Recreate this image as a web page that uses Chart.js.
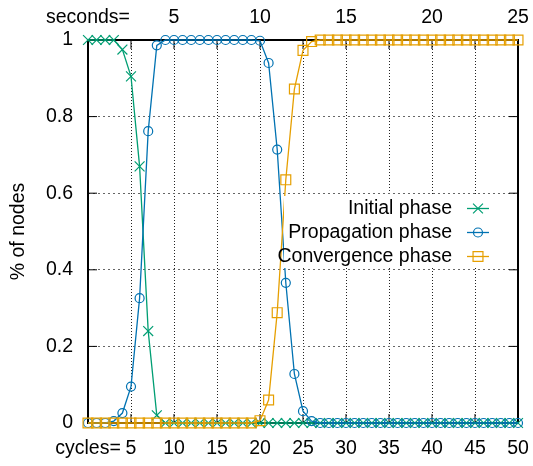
<!DOCTYPE html>
<html>
<head>
<meta charset="utf-8">
<script src="https://cdn.jsdelivr.net/npm/chart.js@4"></script>
<style>
  html, body { margin: 0; padding: 0; background: #fff; }
  canvas { display: block; }
</style>
</head>
<body>
<canvas id="phaseChart" width="533" height="466"></canvas>
<script>
// DATA
const cycles = [0, 1, 2, 3, 4, 5, 6, 7, 8, 9, 10, 11, 12, 13, 14, 15, 16, 17, 18, 19, 20,
    21, 22, 23, 24, 25, 26, 27, 28, 29, 30, 31, 32, 33, 34, 35, 36, 37, 38, 39, 40,
    41, 42, 43, 44, 45, 46, 47, 48, 49, 50];
const initialPhase = [1, 1, 1, 1, 0.975, 0.905, 0.67, 0.24, 0.02, 0, 0,
    0, 0, 0, 0, 0, 0, 0, 0, 0, 0,
    0, 0, 0, 0, 0, 0, 0, 0, 0, 0,
    0, 0, 0, 0, 0, 0, 0, 0, 0, 0,
    0, 0, 0, 0, 0, 0, 0, 0, 0, 0];
const propagationPhase = [0, 0, 0, 0.005, 0.026, 0.095, 0.326, 0.762, 0.986, 1, 1,
    1, 1, 1, 1, 1, 1, 1, 1, 1, 0.998,
    0.94, 0.714, 0.366, 0.128, 0.031, 0.005, 0, 0, 0, 0,
    0, 0, 0, 0, 0, 0, 0, 0, 0, 0,
    0, 0, 0, 0, 0, 0, 0, 0, 0, 0];
const convergencePhase = [0, 0, 0, 0, 0, 0, 0, 0, 0, 0, 0,
    0, 0, 0, 0, 0, 0, 0, 0, 0, 0.006,
    0.06, 0.288, 0.635, 0.872, 0.973, 0.996, 1, 1, 1, 1,
    1, 1, 1, 1, 1, 1, 1, 1, 1, 1,
    1, 1, 1, 1, 1, 1, 1, 1, 1, 1];

const cycleTicks = [0, 5, 10, 15, 20, 25, 30, 35, 40, 45, 50];
const cycleLabels = ['cycles=', '5', '10', '15', '20', '25', '30', '35', '40', '45', '50'];
const secondTicks = [0, 5, 10, 15, 20, 25];
const secondLabels = ['seconds=', '5', '10', '15', '20', '25'];
const percentTicks = [0, 0.2, 0.4, 0.6, 0.8, 1];
const percentLabels = ['0', '0.2', '0.4', '0.6', '0.8', '1'];

const FONT = "'Liberation Sans', Arial, sans-serif";
const FONT_SIZE = 19.5;

function toPoints(values) {
    return cycles.map((c, i) => ({ x: c, y: values[i] }));
}

// frame + inside tick marks (gnuplot style)
const framePlugin = {
    id: 'frame',
    beforeDatasetsDraw(chart) {
        const { ctx, chartArea: a, scales } = chart;
        ctx.save();
        ctx.strokeStyle = '#000';
        ctx.lineWidth = 1;
        ctx.beginPath();
        cycleTicks.forEach(v => {
            const px = scales.x.getPixelForValue(v);
            ctx.moveTo(px, a.bottom); ctx.lineTo(px, a.bottom - 9);
            ctx.moveTo(px, a.top); ctx.lineTo(px, a.top + 9);
        });
        percentTicks.forEach(v => {
            const py = scales.y.getPixelForValue(v);
            ctx.moveTo(a.left, py); ctx.lineTo(a.left + 9, py);
            ctx.moveTo(a.right, py); ctx.lineTo(a.right - 9, py);
        });
        ctx.stroke();
        ctx.lineWidth = 2;
        ctx.strokeRect(a.left, a.top, a.right - a.left, a.bottom - a.top);
        ctx.restore();
    }
};

// key at the right, text first then the sample (opaque box)
const keyPlugin = {
    id: 'key',
    afterDatasetsDraw(chart) {
        const ctx = chart.ctx;
        const a = chart.chartArea;
        ctx.save();
        ctx.fillStyle = '#fff';
        ctx.fillRect(284, 196, a.right - 285, 72);
        ctx.font = FONT_SIZE + 'px ' + FONT;
        ctx.textAlign = 'right';
        ctx.textBaseline = 'alphabetic';
        chart.data.datasets.forEach((ds, i) => {
            const y = 208.5 + 24 * i;
            ctx.fillStyle = '#000';
            ctx.fillText(ds.label, 452, y + 5);
            ctx.strokeStyle = ds.borderColor;
            ctx.lineWidth = ds.borderWidth;
            ctx.beginPath();
            ctx.moveTo(467, y);
            ctx.lineTo(489, y);
            ctx.stroke();
            ctx.fillStyle = 'rgba(0,0,0,0)';
            ctx.lineWidth = ds.pointBorderWidth;
            Chart.helpers.drawPoint(ctx, {
                pointStyle: ds.pointStyle,
                radius: ds.pointRadius,
                borderWidth: ds.pointBorderWidth,
                rotation: 0
            }, 478, y);
        });
        ctx.restore();
    }
};

function makeSeries(label, values, color, style, radius, order) {
    return {
        label: label,
        data: toPoints(values),
        borderColor: color,
        backgroundColor: 'rgba(0,0,0,0)',
        borderWidth: 1.3,
        pointStyle: style,
        pointRadius: radius,
        pointBorderWidth: 1.2,
        pointBackgroundColor: 'rgba(0,0,0,0)',
        pointBorderColor: color,
        tension: 0,
        clip: false,
        order: order
    };
}

function initChart() {
    if (typeof Chart === 'undefined') {
        console.error('Chart.js is not loaded');
        return;
    }
    Chart.defaults.font.family = FONT;
    Chart.defaults.font.size = FONT_SIZE;
    Chart.defaults.color = '#000';

    const gridColor = (ctx, edges, col) =>
        edges.includes(ctx.tick.value) ? 'rgba(0,0,0,0)' : col;

    // fixed box sizes so the plot area lands where the reference has it
    const fixHeight = h => s => { s.height = h; s.paddingLeft = 0; s.paddingRight = 0; };

    const config = {
        type: 'line',
        data: {
            datasets: [
                makeSeries('Initial phase', initialPhase, '#009e73', 'crossRot', 7, 2),
                makeSeries('Propagation phase', propagationPhase, '#0072b2', 'circle', 4.5, 1),
                makeSeries('Convergence phase', convergencePhase, '#e69f00', 'rect', 7, 0)
            ]
        },
        options: {
            responsive: false,
            animation: false,
            events: [],
            layout: { padding: { left: 0, right: 15, top: 0, bottom: 0 } },
            plugins: {
                legend: { display: false },
                tooltip: { enabled: false }
            },
            scales: {
                x: {
                    type: 'linear',
                    position: 'bottom',
                    min: 0,
                    max: 50,
                    afterBuildTicks: s => { s.ticks = cycleTicks.map(v => ({ value: v })); },
                    afterFit: fixHeight(43),
                    ticks: {
                        maxRotation: 0,
                        autoSkip: false,
                        padding: 14,
                        callback: (v, i) => cycleLabels[i]
                    },
                    grid: {
                        drawTicks: false,
                        lineWidth: 1,
                        color: ctx => gridColor(ctx, [0, 50], '#222')
                    },
                    border: { display: false, dash: [1, 2] }
                },
                x2: {
                    type: 'linear',
                    position: 'top',
                    display: true,
                    min: 0,
                    max: 25,
                    afterBuildTicks: s => { s.ticks = secondTicks.map(v => ({ value: v })); },
                    afterFit: fixHeight(40),
                    ticks: {
                        maxRotation: 0,
                        autoSkip: false,
                        padding: 11,
                        callback: (v, i) => secondLabels[i]
                    },
                    grid: { display: false, drawTicks: false },
                    border: { display: false }
                },
                y: {
                    type: 'linear',
                    min: 0,
                    max: 1,
                    afterBuildTicks: s => { s.ticks = percentTicks.map(v => ({ value: v })); },
                    afterFit: s => { s.width = 88; s.paddingTop = 0; s.paddingBottom = 0; },
                    ticks: {
                        padding: 15,
                        callback: (v, i) => percentLabels[i]
                    },
                    title: {
                        display: true,
                        text: '% of nodes',
                        padding: { top: 7, bottom: 0 }
                    },
                    grid: {
                        drawTicks: false,
                        lineWidth: 1,
                        color: ctx => gridColor(ctx, [0, 1], '#666')
                    },
                    border: { display: false, dash: [2, 3] }
                }
            }
        },
        plugins: [framePlugin, keyPlugin]
    };

    const canvas = document.getElementById('phaseChart');
    if (canvas) {
        new Chart(canvas.getContext('2d'), config);
    }
}

if (document.readyState === 'loading') {
    document.addEventListener('DOMContentLoaded', initChart);
} else {
    initChart();
}
</script>
</body>
</html>
